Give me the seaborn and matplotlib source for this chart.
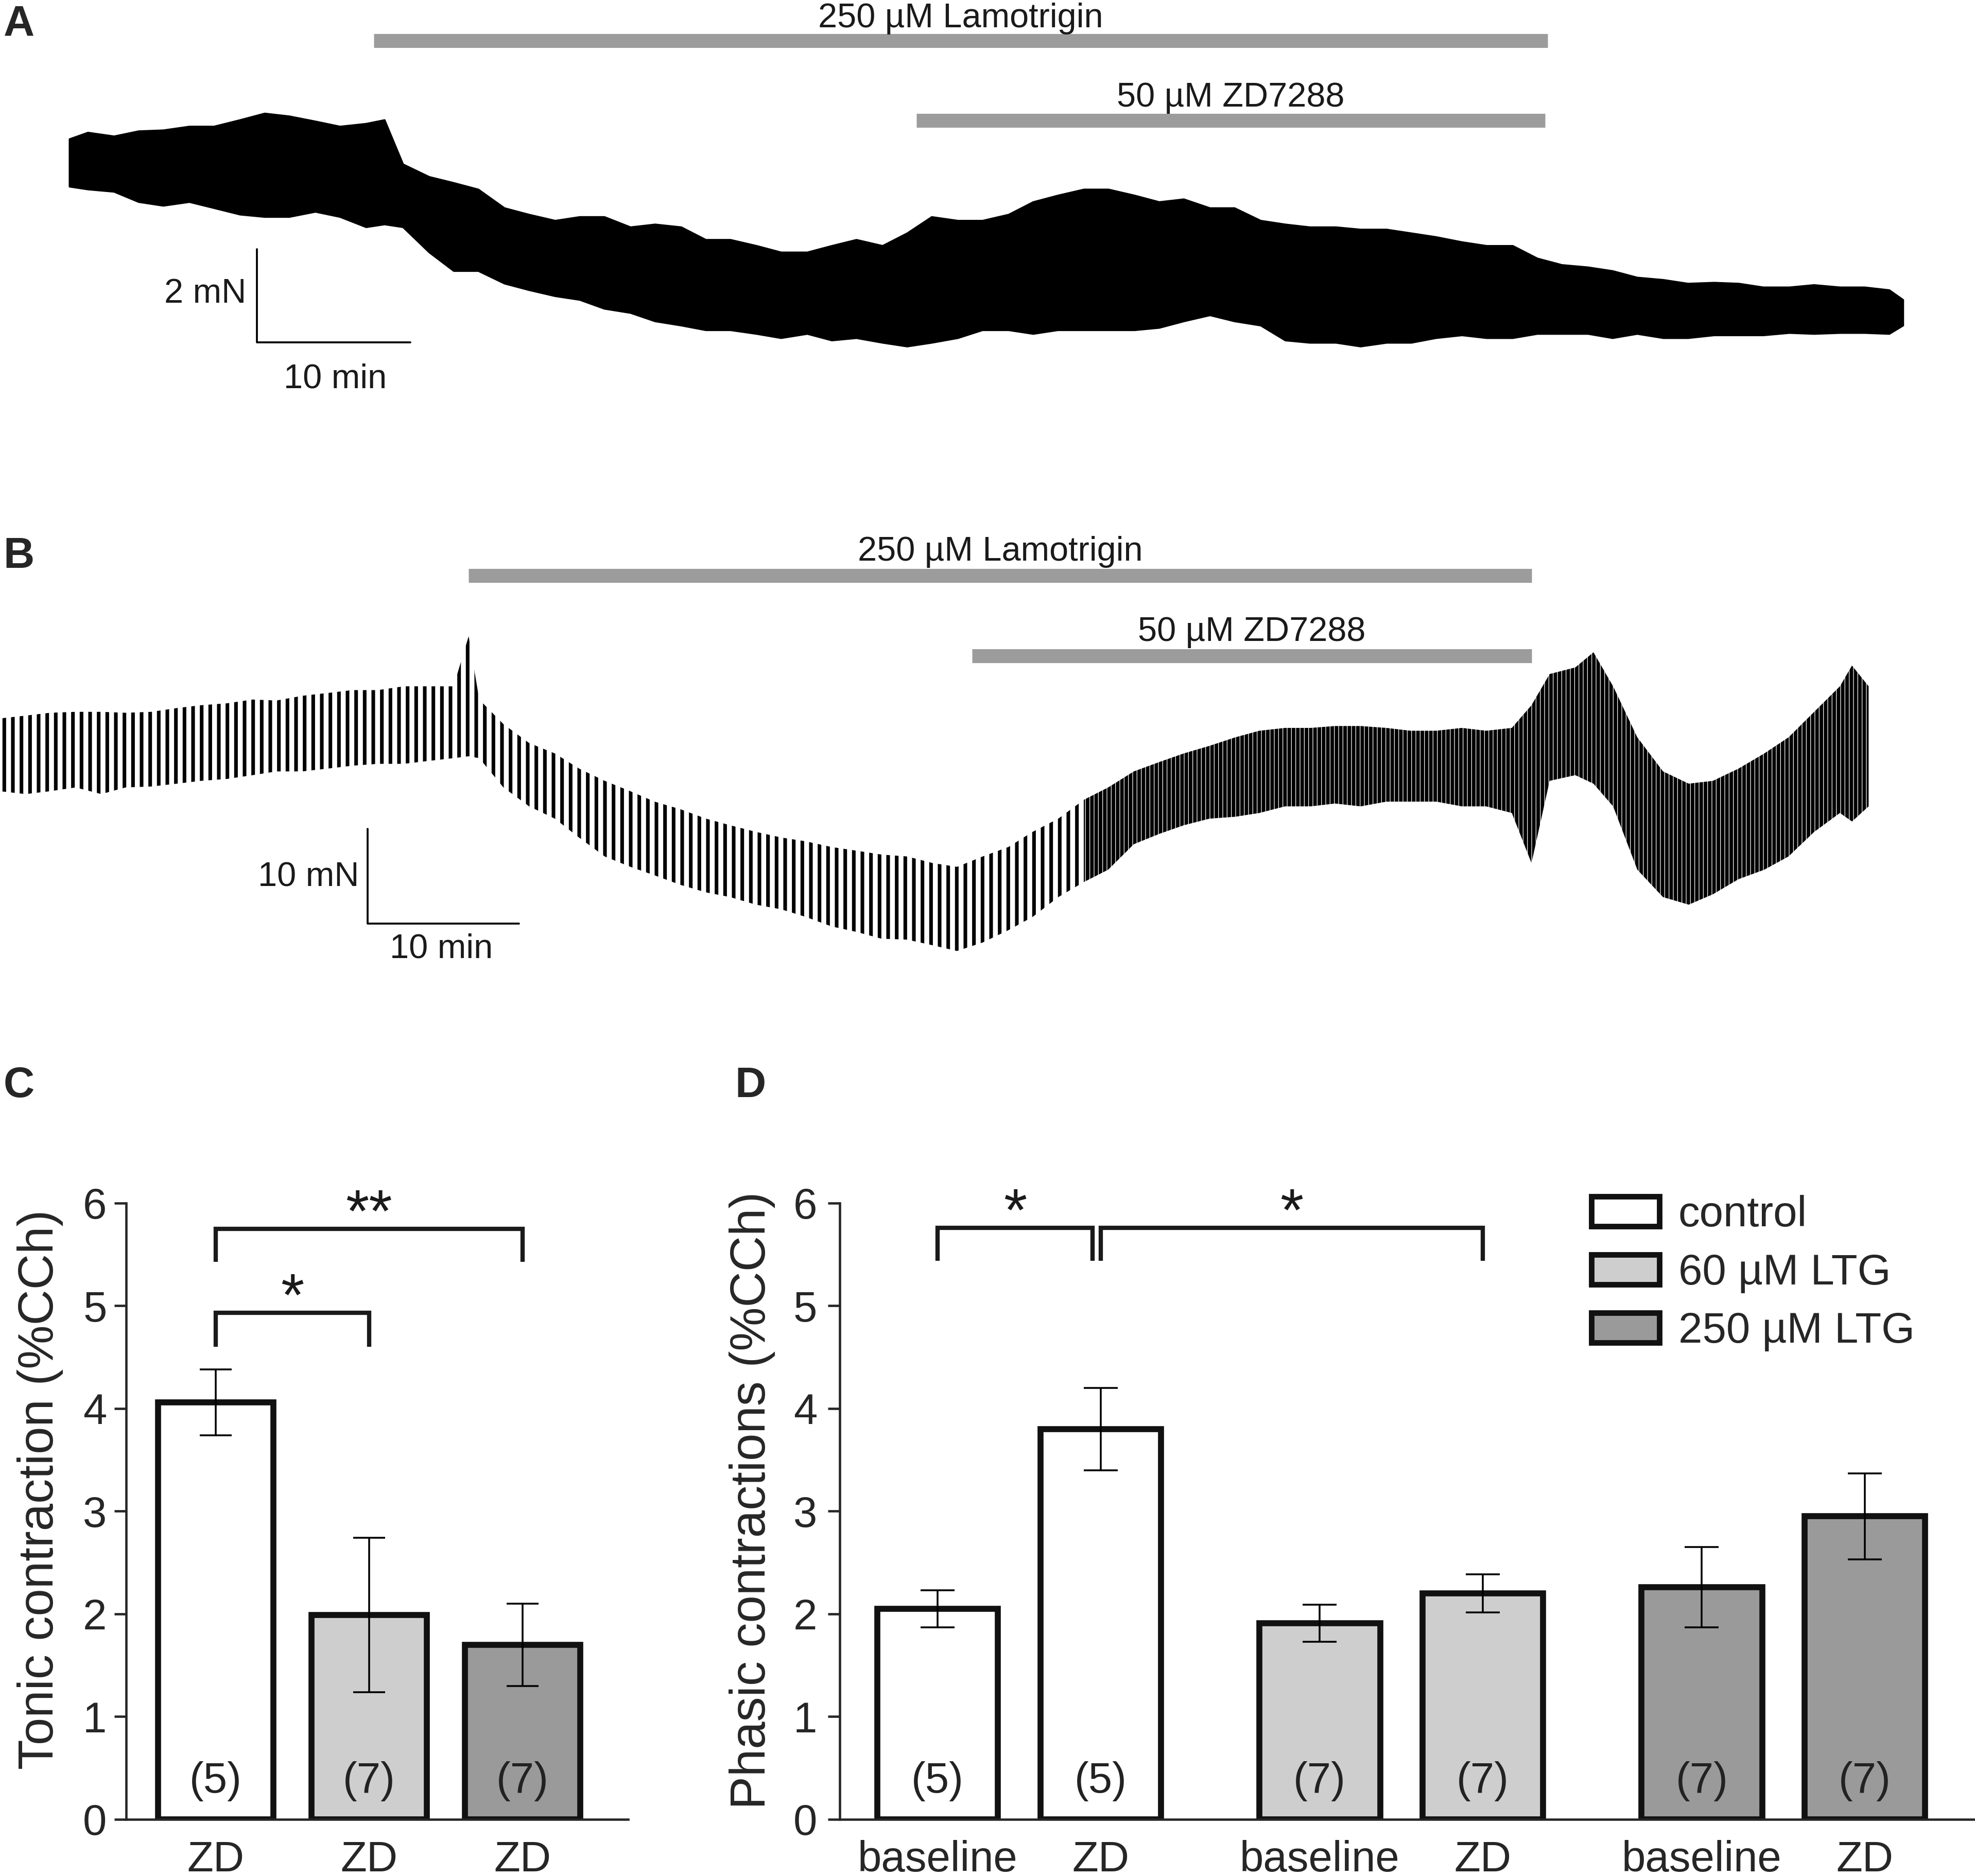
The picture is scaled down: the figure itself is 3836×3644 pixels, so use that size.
import matplotlib
matplotlib.use('Agg')
import matplotlib.pyplot as plt
from matplotlib.patches import Patch
import numpy as np
import pandas as pd
import seaborn as sns

# ---- trace A: force envelope (mN) vs time (min)
trace_a_time = [0, 1.2, 2.9, 4.5, 6.1, 7.8, 9.4, 11.1, 12.7, 14.3, 16.0, 17.6, 19.3, 20.5, 21.7,
                23.4, 25.0, 26.6, 28.3, 29.9, 31.6, 33.2, 34.8, 36.5, 38.1, 39.8, 41.4, 43.0, 44.7,
                46.3, 48.0, 49.6, 51.2, 52.9, 54.5, 56.1, 57.8, 59.4, 61.1, 62.7, 64.3, 66.0, 67.6,
                69.3, 70.9, 72.5, 74.2, 75.8, 77.5, 79.1, 80.7, 82.4, 84.0, 85.7, 87.3, 88.9, 90.6,
                92.2, 93.9, 95.5, 97.1, 98.8, 100.4, 102.0, 103.7, 105.3, 107.0, 108.6, 110.2,
                111.9, 113.5, 115.2, 116.8, 118.4, 119.3]
trace_a_upper = [4.59, 4.73, 4.65, 4.76, 4.78, 4.86, 4.86, 5.00, 5.14, 5.08, 4.97, 4.86, 4.92, 5.00,
                 4.05, 3.78, 3.65, 3.51, 3.11, 2.97, 2.84, 2.92, 2.92, 2.70, 2.76, 2.70, 2.43, 2.43,
                 2.30, 2.16, 2.16, 2.30, 2.43, 2.30, 2.57, 2.92, 2.84, 2.84, 2.97, 3.24, 3.38, 3.51,
                 3.51, 3.38, 3.24, 3.30, 3.11, 3.11, 2.84, 2.76, 2.70, 2.70, 2.65, 2.65, 2.57, 2.49,
                 2.38, 2.30, 2.30, 2.03, 1.89, 1.84, 1.76, 1.62, 1.57, 1.49, 1.51, 1.49, 1.41, 1.41,
                 1.46, 1.41, 1.41, 1.35, 1.14]
trace_a_lower = [3.57, 3.51, 3.46, 3.24, 3.16, 3.24, 3.11, 2.97, 2.92, 2.92, 3.03, 2.92, 2.70, 2.76,
                 2.70, 2.16, 1.76, 1.76, 1.49, 1.35, 1.22, 1.14, 0.95, 0.86, 0.68, 0.59, 0.49, 0.49,
                 0.41, 0.32, 0.41, 0.27, 0.32, 0.22, 0.14, 0.22, 0.32, 0.49, 0.49, 0.41, 0.49, 0.49,
                 0.49, 0.49, 0.54, 0.68, 0.81, 0.68, 0.59, 0.27, 0.22, 0.22, 0.14, 0.22, 0.22, 0.32,
                 0.38, 0.32, 0.32, 0.41, 0.41, 0.41, 0.32, 0.41, 0.32, 0.32, 0.38, 0.38, 0.38, 0.43,
                 0.41, 0.43, 0.43, 0.41, 0.59]

# ---- trace B
trace_b_time = [0, 1.7, 3.3, 5.0, 6.7, 8.3, 10.0, 11.7, 13.3, 15.0, 16.7, 18.3, 20.0, 21.7, 23.3,
                25.0, 26.7, 28.3, 30.0, 31.0, 31.7, 33.3, 35.0, 36.7, 38.3, 40.0, 41.7, 43.3, 45.0,
                46.7, 48.3, 50.0, 51.7, 53.3, 55.0, 56.7, 58.3, 60.0, 61.7, 63.3, 65.0, 66.7, 68.3,
                70.0, 71.7, 73.3, 75.0, 76.7, 78.3, 80.0, 81.7, 83.3, 85.0, 86.7, 88.3, 90.0, 91.7,
                93.3, 95.0, 96.7, 98.3, 100.0, 101.3, 102.5, 104.2, 105.4, 106.7, 108.3, 110.0,
                111.7, 113.3, 115.0, 116.7, 118.3, 120.0, 121.7, 122.5, 123.6]
trace_b_upper = [25.3, 25.6, 25.9, 26.0, 26.0, 25.9, 26.0, 26.4, 26.7, 26.9,
                 27.3, 27.2, 27.7, 28.0, 28.3, 28.3, 28.7, 28.7, 28.7, 34.0,
                 27.3, 24.7, 22.7, 21.6, 20.0, 18.7, 17.6, 16.5, 15.7, 14.7,
                 14.0, 13.3, 12.7, 12.3, 11.7, 11.3, 10.9, 10.7, 10.0, 9.6,
                 10.7, 11.7, 13.3, 14.7, 16.7, 18.0, 19.7, 20.7, 21.6, 22.4,
                 23.3, 24.0, 24.3, 24.3, 24.5, 24.5, 24.3, 24.0, 24.0, 24.3,
                 24.0, 24.3, 26.7, 30.0, 30.7, 32.3, 28.7, 23.3, 19.7, 18.4,
                 18.7, 20.0, 21.6, 23.3, 26.0, 28.7, 30.9, 28.7]
trace_b_lower = [17.6, 17.3, 17.6, 18.0, 17.3, 18.0, 18.1, 18.4, 18.7, 18.9,
                 19.3, 19.7, 19.7, 20.0, 20.3, 20.5, 20.5, 20.8, 21.1, 21.3,
                 21.1, 18.0, 16.0, 14.7, 12.7, 10.7, 9.6, 8.7, 7.7, 6.9,
                 6.4, 5.6, 5.1, 4.3, 3.3, 2.7, 2.0, 1.9, 1.3, 0.7,
                 1.6, 2.9, 4.3, 6.4, 8.0, 9.3, 12.0, 13.1, 14.0, 14.7,
                 14.9, 15.3, 16.0, 16.0, 16.3, 16.0, 16.5, 16.5, 16.5, 16.0,
                 16.0, 15.3, 10.0, 18.7, 19.3, 18.4, 16.0, 9.3, 6.4, 5.6,
                 6.7, 8.3, 9.3, 10.7, 13.3, 15.3, 14.4, 16.0]

# drug application windows (min)
lamotrigin_a = (19.8, 96.2)
zd_a = (55.1, 96.0)
lamotrigin_b = (31.0, 101.3)
zd_b = (64.3, 101.3)

# ---- C: tonic contraction
groups = ['control', '60 µM LTG', '250 µM LTG']
tonic_mean = [4.06, 1.99, 1.70]
tonic_sem = [0.32, 0.75, 0.40]
tonic_n = [5, 7, 7]
tonic_labels = ['ZD', 'ZD', 'ZD']

# ---- D: phasic contractions
phases = ['baseline', 'ZD']
phasic_baseline = [2.05, 1.91, 2.26]
phasic_baseline_sem = [0.18, 0.18, 0.39]
phasic_zd = [3.80, 2.20, 2.95]
phasic_zd_sem = [0.40, 0.185, 0.42]
phasic_n = [5, 7, 7]

bar_colors = ['#ffffff', '#cecece', '#9a9a9a']
edge = '#111111'
drug_gray = '#9c9c9c'

sns.set_style('ticks')
plt.rcParams['font.family'] = ['Liberation Sans', 'DejaVu Sans']
plt.rcParams['hatch.linewidth'] = 1.7
plt.rcParams['hatch.color'] = 'black'

fig = plt.figure(figsize=(3837 / 300, 3644 / 300), dpi=300)


def drug_bar(ax, span, y, ytext, label):
    ax.plot(span, [y, y], color=drug_gray, lw=6.5, solid_capstyle='butt')
    ax.text((span[0] + span[1]) / 2, ytext, label, ha='center', va='baseline',
            fontsize=16, color='#1a1a1a')


# ---------------- A
ax_a = fig.add_axes([0, 0.7784, 1, 0.2216])
ax_a.fill_between(trace_a_time, trace_a_lower, trace_a_upper, color='black', lw=0.8)
drug_bar(ax_a, lamotrigin_a, 6.70, 6.99, '250 µM Lamotrigin')
drug_bar(ax_a, zd_a, 4.98, 5.28, '50 µM ZD7288')
ax_a.plot([12.2, 12.2, 22.2], [2.22, 0.22, 0.22], color='black', lw=0.9)
ax_a.text(11.5, 1.26, '2 mN', ha='right', va='center', fontsize=16, color='#1a1a1a')
ax_a.text(17.3, -0.22, '10 min', ha='center', va='top', fontsize=16, color='#1a1a1a')
ax_a.set_xlim(-4.51, 124.02)
ax_a.set_ylim(-1.35, 7.57)
ax_a.axis('off')

# ---------------- B
ax_b = fig.add_axes([0, 0.4627, 1, 0.2687])
tb = np.array(trace_b_time)
ax_b.fill_between(tb, trace_b_lower, trace_b_upper, where=tb <= 71.7, facecolor='none',
                  edgecolor='black', hatch='|||', lw=0)
ax_b.fill_between(tb, trace_b_lower, trace_b_upper, where=tb >= 71.7, facecolor='none',
                  edgecolor='black', hatch='||||||', lw=0)
drug_bar(ax_b, lamotrigin_b, 40.4, 42.0, '250 µM Lamotrigin')
drug_bar(ax_b, zd_b, 31.9, 33.5, '50 µM ZD7288')
ax_b.plot([24.33, 24.33, 34.33], [13.6, 3.6, 3.6], color='black', lw=0.9)
ax_b.text(23.75, 8.5, '10 mN', ha='right', va='center', fontsize=16, color='#1a1a1a')
ax_b.text(29.2, 2.6, '10 min', ha='center', va='top', fontsize=16, color='#1a1a1a')
ax_b.set_xlim(0, 130.67)
ax_b.set_ylim(-5.33, 48.0)
ax_b.axis('off')


def style_bar_axes(ax, pad_y):
    sns.despine(ax=ax)
    for s in ('left', 'bottom'):
        ax.spines[s].set_linewidth(1.1)
    ax.set_ylim(0, 6)
    ax.set_yticks(range(7))
    ax.tick_params(axis='y', length=5.5, width=1.1, pad=pad_y, labelsize=20)
    ax.tick_params(axis='x', length=0, pad=9.5, labelsize=20)
    ax.set_xlabel('')


def bracket(ax, x1, x2, h, leg, star):
    ax.plot([x1, x1, x2, x2], [leg, h, h, leg], color='#1a1a1a', lw=2.0,
            solid_joinstyle='miter', solid_capstyle='butt')
    ax.text((x1 + x2) / 2, h - 0.03, star, ha='center', va='baseline',
            fontsize=28, color='#1a1a1a')


# ---------------- C
ax_c = fig.add_axes([0.06385, 0.03019, 0.2541, 0.3285])
df_c = pd.DataFrame({'group': groups, 'value': tonic_mean})
sns.barplot(data=df_c, x='group', y='value', hue='group', order=groups, hue_order=groups,
            palette=bar_colors, width=0.75, errorbar=None, edgecolor=edge, linewidth=2.8,
            legend=False, ax=ax_c)
centers_c = [p.get_x() + p.get_width() / 2 for p in ax_c.patches]
ax_c.errorbar(centers_c, tonic_mean, yerr=tonic_sem, fmt='none', ecolor='black',
              elinewidth=0.85, capsize=7.5, capthick=0.85, zorder=5)
for c, n in zip(centers_c, tonic_n):
    ax_c.text(c, 0.26, f'({n})', ha='center', va='baseline', fontsize=20, color='#222222')
style_bar_axes(ax_c, 3.5)
ax_c.set_xticks(centers_c)
ax_c.set_xticklabels(tonic_labels)
ax_c.set_xlim(-0.584, 2.688)
ax_c.set_ylabel('Tonic contraction (%CCh)', fontsize=23, va='center')
ax_c.yaxis.set_label_coords(-0.171, 0.535)
bracket(ax_c, centers_c[0], centers_c[1], 4.93, 4.60, '*')
bracket(ax_c, centers_c[0], centers_c[2], 5.75, 5.43, '**')

# ---------------- D
ax_d = fig.add_axes([0.4251, 0.03019, 0.5749, 0.3285])
df_d = pd.DataFrame({
    'group': groups * 2,
    'phase': ['baseline'] * 3 + ['ZD'] * 3,
    'value': phasic_baseline + phasic_zd,
})
sns.barplot(data=df_d, x='group', y='value', hue='phase', order=groups, hue_order=phases,
            width=0.854, gap=0.26, errorbar=None, edgecolor=edge, linewidth=2.8,
            legend=False, ax=ax_d)
means_d = [phasic_baseline, phasic_zd]
sems_d = [phasic_baseline_sem, phasic_zd_sem]
bars_d = []
for k, cont in enumerate(ax_d.containers):
    for g, bar in enumerate(cont):
        bar.set_facecolor(bar_colors[g])
        bars_d.append((g, k, bar.get_x() + bar.get_width() / 2, means_d[k][g], sems_d[k][g]))
bars_d.sort(key=lambda b: (b[0], b[1]))
centers_d = [b[2] for b in bars_d]
ax_d.errorbar(centers_d, [b[3] for b in bars_d], yerr=[b[4] for b in bars_d], fmt='none',
              ecolor='black', elinewidth=0.85, capsize=8, capthick=0.85, zorder=5)
for b in bars_d:
    ax_d.text(b[2], 0.26, f'({phasic_n[b[0]]})', ha='center', va='baseline', fontsize=20,
              color='#222222')
style_bar_axes(ax_d, 5)
ax_d.set_xticks(centers_d)
ax_d.set_xticklabels([phases[b[1]] for b in bars_d])
ax_d.set_xlim(-0.4697, 2.503)
ax_d.set_ylabel('Phasic contractions (%CCh)', fontsize=23, va='center')
ax_d.yaxis.set_label_coords(-0.077, 0.518)
bracket(ax_d, centers_d[0], centers_d[1] - 0.022, 5.76, 5.44, '*')
bracket(ax_d, centers_d[1], centers_d[3], 5.76, 5.44, '*')

handles = [Patch(facecolor=c, edgecolor=edge, linewidth=2.6) for c in bar_colors]
ax_d.legend(handles, groups, loc='upper left', bbox_to_anchor=(0.662, 1.013), frameon=False,
            fontsize=20, handlelength=1.58, handleheight=0.7, handletextpad=0.44,
            labelspacing=0.42, borderpad=0, borderaxespad=0)

# panel letters
for letter, x, y in [('A', 0.0018, 0.981), ('B', 0.0016, 0.6973),
                     ('C', 0.0018, 0.4152), ('D', 0.3719, 0.4152)]:
    fig.text(x, y, letter, fontsize=20, fontweight='bold', ha='left', va='baseline')

fig.savefig('out.png', dpi=300)
